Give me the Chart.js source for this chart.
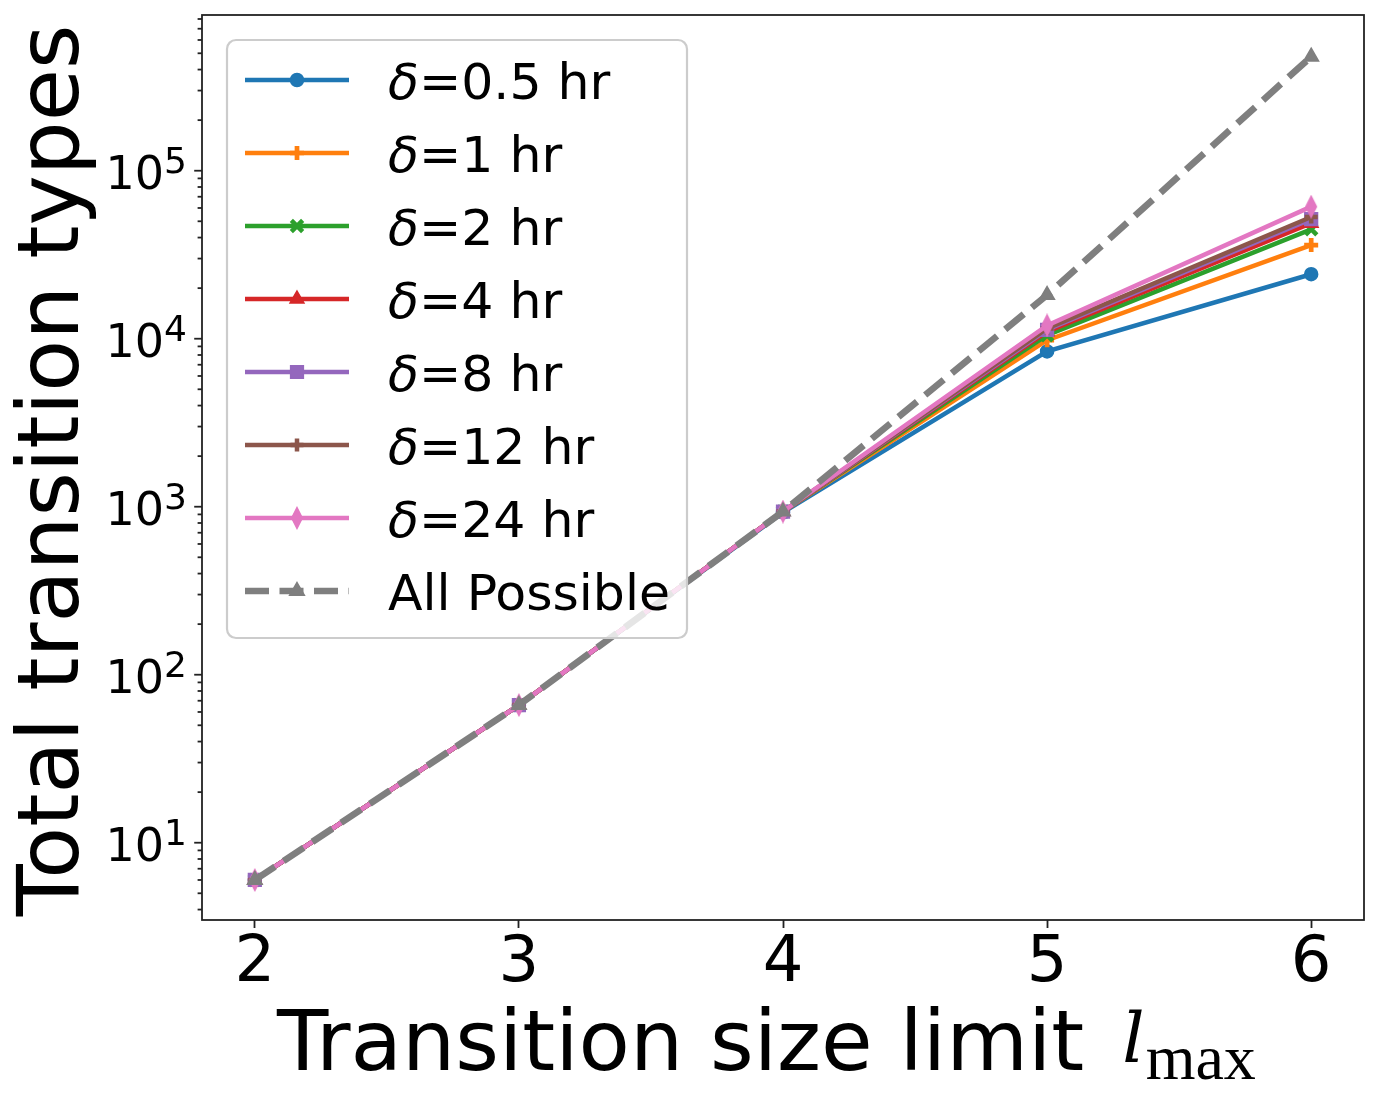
<!DOCTYPE html>
<html>
<head>
<meta charset="utf-8">
<script src="https://cdn.jsdelivr.net/npm/chart.js@4.4.1/dist/chart.umd.min.js"></script>
<style>
  body { margin: 0; background: #fff; }
  #wrap { width: 1379px; height: 1102px; }
</style>
</head>
<body>
<div id="wrap"><canvas id="myChart" width="1379" height="1102"></canvas></div>
<script>
const sizeLimits = [2, 3, 4, 5, 6];

const delta05 = [6, 66, 925, 8400, 24200];
const delta1 = [6, 66, 936, 9800, 36100];
const delta2 = [6, 66, 936, 10500, 44800];
const delta4 = [6, 66, 936, 11000, 48700];
const delta8 = [6, 66, 936, 11300, 51500];
const delta12 = [6, 66, 936, 11500, 53000];
const delta24 = [6, 66, 936, 12000, 61100];
const allPossible = [6, 66, 936, 18200, 477000];

const seriesLabels = [
  "δ=0.5 hr",
  "δ=1 hr",
  "δ=2 hr",
  "δ=4 hr",
  "δ=8 hr",
  "δ=12 hr",
  "δ=24 hr",
  "All Possible",
];

const xTicks = [2, 3, 4, 5, 6];
const yTicks = [10, 100, 1000, 10000, 100000];
const yTickExponents = ["1", "2", "3", "4", "5"];

const xTitle = "Transition size limit";
const yTitle = "Total transition types";

// thin diamond, like matplotlib's "d" marker
function thinDiamond(color) {
  const c = document.createElement("canvas");
  c.width = 14;
  c.height = 24;
  const g = c.getContext("2d");
  g.fillStyle = color;
  g.strokeStyle = color;
  g.lineWidth = 1.4;
  g.beginPath();
  g.moveTo(7, 1.5);
  g.lineTo(12.3, 12);
  g.lineTo(7, 22.5);
  g.lineTo(1.7, 12);
  g.closePath();
  g.fill();
  g.stroke();
  return c;
}

function series(label, data, color, style, radius, border, order) {
  return {
    label: label,
    data: data.map((v, i) => ({ x: sizeLimits[i], y: v })),
    borderColor: color,
    backgroundColor: color,
    borderWidth: 4.5,
    tension: 0,
    pointStyle: style,
    pointRadius: radius,
    pointHoverRadius: radius,
    pointBorderWidth: border,
    pointHoverBorderWidth: border,
    pointBackgroundColor: color,
    pointBorderColor: color,
    order: order,
  };
}

const datasets = [
  series(seriesLabels[0], delta05, "#1f77b4", "circle", 6.5, 1.5, 7),
  series(seriesLabels[1], delta1, "#ff7f0e", "cross", 7, 4.7, 6),
  series(seriesLabels[2], delta2, "#2ca02c", "crossRot", 8, 4.5, 5),
  series(seriesLabels[3], delta4, "#d62728", "triangle", 8, 1.5, 4),
  series(seriesLabels[4], delta8, "#9467bd", "rect", 9, 1.5, 3),
  series(seriesLabels[5], delta12, "#8c564b", "cross", 6.5, 4.5, 2),
  series(seriesLabels[6], delta24, "#e377c2", thinDiamond("#e377c2"), 7, 1.5, 1),
  series(seriesLabels[7], allPossible, "#7f7f7f", "triangle", 8.5, 1.5, 0),
];
datasets[7].borderWidth = 6.7;
datasets[7].borderDash = [24, 10.5];

// minor + major y ticks, exponent tick labels, frame
const logAxis = {
  id: "logAxis",
  afterDatasetsDraw(chart) {
    const ctx = chart.ctx;
    const area = chart.chartArea;
    const y = chart.scales.y;
    ctx.save();
    ctx.strokeStyle = "#222";
    ctx.lineWidth = 1.8;
    for (let p = 0; p <= 6; p++) {
      for (let m = 1; m <= 9; m++) {
        const v = m * Math.pow(10, p);
        if (v < y.min || v > y.max) continue;
        const py = y.getPixelForValue(v);
        const len = m === 1 ? 7.8 : 4.4;
        ctx.beginPath();
        ctx.moveTo(area.left - len, py);
        ctx.lineTo(area.left, py);
        ctx.stroke();
      }
    }
    ctx.strokeRect(area.left, area.top, area.right - area.left, area.bottom - area.top);

    ctx.fillStyle = "#000";
    ctx.textBaseline = "alphabetic";
    ctx.textAlign = "right";
    const rightX = area.left - 15;
    yTicks.forEach((v, i) => {
      const py = y.getPixelForValue(v);
      ctx.font = '36px "DejaVu Sans"';
      const ew = ctx.measureText(yTickExponents[i]).width;
      ctx.fillText(yTickExponents[i], rightX, py + 2.6);
      ctx.font = '46px "DejaVu Sans"';
      ctx.fillText("10", rightX - ew, py + 18);
    });
    ctx.restore();
  },
};

// axis titles
const axisTitles = {
  id: "axisTitles",
  afterDraw(chart) {
    const ctx = chart.ctx;
    const area = chart.chartArea;
    ctx.save();
    ctx.fillStyle = "#000";
    ctx.textBaseline = "alphabetic";
    ctx.textAlign = "left";

    const x0 = area.left + 75;
    ctx.font = '84px "DejaVu Sans"';
    const sansW = ctx.measureText(xTitle).width;
    ctx.fillText(xTitle, x0, 1070);
    const lX = x0 + sansW + 38;
    ctx.font = 'italic 70px "DejaVu Serif"';
    const lW = ctx.measureText("l").width;
    ctx.fillText("l", lX, 1062);
    ctx.font = '64px "Liberation Serif"';
    ctx.fillText("max", lX + lW + 1, 1079);

    ctx.translate(78, (area.top + area.bottom) / 2 + 3);
    ctx.rotate(-Math.PI / 2);
    ctx.textAlign = "center";
    ctx.font = '85px "DejaVu Sans"';
    ctx.fillText(yTitle, 0, 0);
    ctx.restore();
  },
};

// matplotlib-like legend box in the upper left of the axes
const boxLegend = {
  id: "boxLegend",
  afterDraw(chart) {
    const ctx = chart.ctx;
    const area = chart.chartArea;
    const bx = area.left + 25;
    const by = area.top + 25;
    const bw = 460;
    const bh = 598;
    const rowH = 73;
    const lineX0 = bx + 18;
    const lineX1 = lineX0 + 104;
    const textX = lineX1 + 39;
    ctx.save();
    ctx.beginPath();
    ctx.roundRect(bx, by, bw, bh, 9);
    ctx.fillStyle = "rgba(255,255,255,0.8)";
    ctx.fill();
    ctx.lineWidth = 2.2;
    ctx.strokeStyle = "#cccccc";
    ctx.stroke();

    chart.data.datasets.forEach((ds, i) => {
      const cy = by + 40 + i * rowH;
      ctx.save();
      ctx.strokeStyle = ds.borderColor;
      ctx.lineWidth = ds.borderWidth;
      ctx.setLineDash(ds.borderDash || []);
      ctx.beginPath();
      ctx.moveTo(lineX0, cy);
      ctx.lineTo(lineX1, cy);
      ctx.stroke();
      ctx.setLineDash([]);
      ctx.fillStyle = ds.pointBackgroundColor;
      ctx.strokeStyle = ds.pointBorderColor;
      ctx.lineWidth = ds.pointBorderWidth;
      Chart.helpers.drawPoint(ctx, {
        pointStyle: ds.pointStyle,
        radius: ds.pointRadius,
        borderWidth: ds.pointBorderWidth,
        rotation: 0,
      }, (lineX0 + lineX1) / 2, cy);
      ctx.restore();

      ctx.fillStyle = "#000";
      ctx.textAlign = "left";
      ctx.textBaseline = "alphabetic";
      let tx = textX;
      let rest = ds.label;
      if (rest.startsWith("δ")) {
        ctx.font = 'italic 50.5px "DejaVu Sans"';
        ctx.fillText("δ", tx, cy + 19);
        tx += ctx.measureText("δ").width;
        rest = rest.slice(1);
      }
      ctx.font = '50.5px "DejaVu Sans"';
      ctx.fillText(rest, tx, cy + 19);
    });
    ctx.restore();
  },
};

const ctx = document.getElementById("myChart");
new Chart(ctx, {
  type: "line",
  data: { datasets: datasets },
  options: {
    responsive: false,
    animation: false,
    layout: {
      padding: { left: 0, top: 15, right: 15, bottom: 0 },
    },
    plugins: {
      legend: { display: false },
      tooltip: { enabled: false },
    },
    scales: {
      x: {
        type: "linear",
        min: 1.8,
        max: 6.2,
        afterBuildTicks: (scale) => {
          scale.ticks = xTicks.map((v) => ({ value: v }));
        },
        afterFit: (scale) => {
          scale.height = 182;
        },
        border: { display: false },
        grid: {
          drawOnChartArea: false,
          drawTicks: true,
          tickLength: 8,
          tickWidth: 1.8,
          tickColor: "#222",
        },
        ticks: {
          color: "#000",
          padding: -2,
          maxRotation: 0,
          font: { family: "DejaVu Sans", size: 64 },
          callback: (v) => String(v),
        },
      },
      y: {
        type: "logarithmic",
        min: 3.467,
        max: 845000,
        afterBuildTicks: (scale) => {
          scale.ticks = yTicks.map((v) => ({ value: v }));
        },
        afterFit: (scale) => {
          scale.width = 202;
        },
        border: { display: false },
        grid: { display: false },
        ticks: { display: false },
      },
    },
  },
  plugins: [logAxis, axisTitles, boxLegend],
});
</script>
</body>
</html>
